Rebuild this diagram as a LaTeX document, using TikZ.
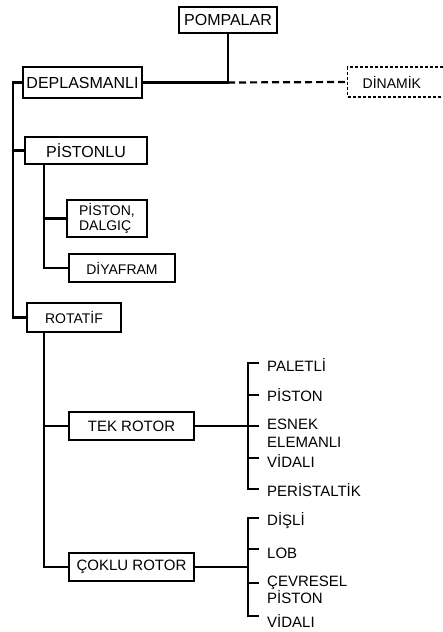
\documentclass[tikz,border=0pt]{standalone}
\usepackage{fontspec}
\setmainfont{Liberation Sans}
\tikzset{
  wire/.style={black, line width=2.2pt},
  omitted/.style={black, line width=2.2pt, dash pattern=on 7pt off 4pt},
  box/.style={draw=black, line width=1.3pt, fill=white, inner sep=0pt,
              align=center, font=\fontsize{15}{17}\selectfont},
  bigbox/.style={box, font=\fontsize{16}{18}\selectfont},
  smallbox/.style={box, font=\fontsize{14}{15.5}\selectfont},
  dashbox/.style={smallbox, dash pattern=on 3pt off 2pt},
  item/.style={anchor=west, inner xsep=8pt, inner ysep=0pt,
               text height=11pt, text depth=0pt,
               font=\fontsize{15}{17}\selectfont},
  itemtwo/.style={anchor=north west, inner xsep=8pt, inner ysep=0pt,
                  align=left, font=\fontsize{15}{17.5}\selectfont},
}
\begin{document}
\begin{tikzpicture}[x=1pt,y=1pt]
  \path[use as bounding box] (0,0) rectangle (442,632);

  % top level
  \node[bigbox, minimum width=98pt, minimum height=26pt] (POMP) at (228,612) {POMPALAR};
  \node[bigbox, minimum width=119pt, minimum height=31pt] (DEPL) at (82.5,549.5) {DEPLASMANLI};
  \node[dashbox, anchor=west, text width=90pt, align=left, inner xsep=15pt,
        minimum height=30pt] (DIN) at (347,550) {DİNAMİK};
  \draw[wire] (POMP.south) |- (DEPL.east);
  \coordinate (JN) at (POMP.south |- DEPL.east);
  \draw[omitted] (JN) -- (DIN.west);

  % displacement pumps
  \node[bigbox, minimum width=122pt, minimum height=27pt] (PIST) at (86,481.5) {PİSTONLU};
  \node[smallbox, minimum width=80pt, minimum height=37pt, align=left] (DALG) at (107,413.5)
    {PİSTON,\\DALGIÇ};
  \node[smallbox, minimum width=106pt, minimum height=28pt] (DIYA) at (122,364) {DİYAFRAM};
  \node[smallbox, minimum width=94pt, minimum height=29pt] (ROTA) at (74,314.5) {ROTATİF};
  \coordinate (TR) at (13,549.5);
  \draw[wire] (DEPL.west) -- (TR) |- (ROTA.west);
  \draw[wire] (PIST.west) -- (PIST.west -| TR);
  \coordinate (PB) at ([xshift=20pt]PIST.south west);
  \draw[wire] (PB) |- (DIYA.west);
  \draw[wire] (DALG.west) -- (DALG.west -| PB);

  % rotary pumps
  \node[box, minimum width=125pt, minimum height=28pt] (TEK) at (131.5,206) {TEK ROTOR};
  \node[box, minimum width=125pt, minimum height=28pt] (COK) at (131.5,65) {ÇOKLU ROTOR};
  \coordinate (RB) at ([xshift=18pt]ROTA.south west);
  \draw[wire] (RB) |- (COK.west);
  \draw[wire] (TEK.west) -- (TEK.west -| RB);

  % single rotor
  \node[item] (PAL) at (259,265.5) {PALETLİ};
  \node[item] (PIS) at (259,235.5) {PİSTON};
  \node[itemtwo] (ESN) at (259,213) {ESNEK\\ELEMANLI};
  \node[item] (VID) at (259,170) {VİDALI};
  \node[item] (PER) at (259,140.5) {PERİSTALTİK};
  \coordinate (T1) at (248,269);
  \coordinate (T2) at (248,237);
  \coordinate (T3) at (248,206);
  \coordinate (T4) at (248,174);
  \coordinate (T5) at (248,143);
  \draw[wire] (T1 -| PAL.west) -- (T1) -- (T5) -- (T5 -| PER.west);
  \draw[wire] (T2) -- (T2 -| PIS.west);
  \draw[wire] (T3) -- (T3 -| ESN.west);
  \draw[wire] (T4) -- (T4 -| VID.west);
  \draw[wire] (TEK.east) -- (T3);

  % multiple rotor
  \node[item] (DIS) at (259,112) {DİŞLİ};
  \node[item] (LOB) at (259,79) {LOB};
  \node[itemtwo] (CEV) at (259,56.5) {ÇEVRESEL\\PİSTON};
  \node[item] (VDB) at (259,10) {VİDALI};
  \coordinate (C1) at (248,114);
  \coordinate (C2) at (248,83);
  \coordinate (C3) at (248,49);
  \coordinate (C4) at (248,16);
  \draw[wire] (C1 -| DIS.west) -- (C1) -- (C4) -- (C4 -| VDB.west);
  \draw[wire] (C2) -- (C2 -| LOB.west);
  \draw[wire] (C3) -- (C3 -| CEV.west);
  \draw[wire] (COK.east) -- (COK.east -| C1);
\end{tikzpicture}
\end{document}
